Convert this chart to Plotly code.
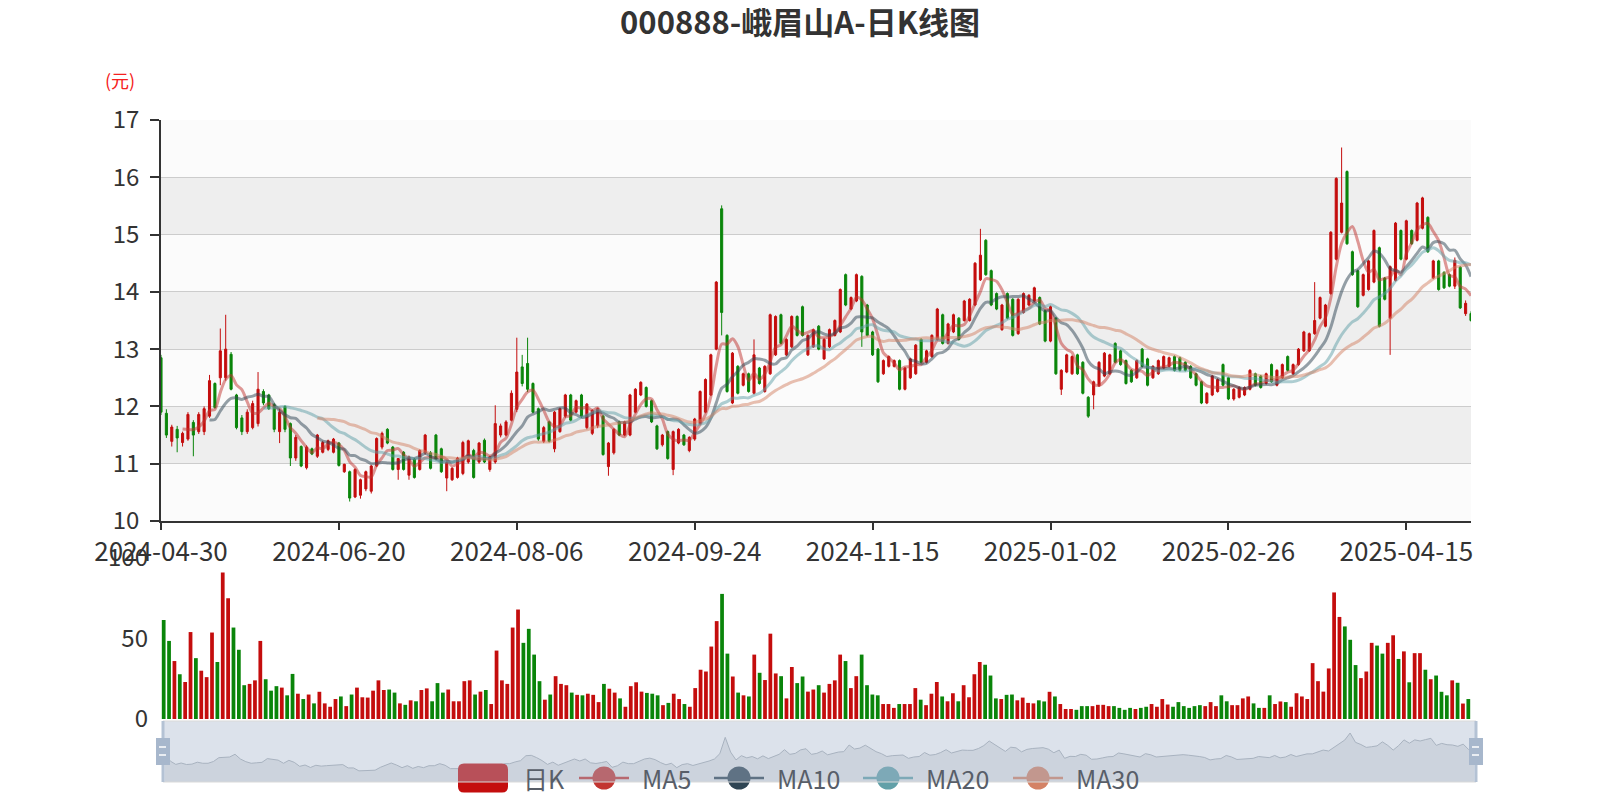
import pandas as pd
import plotly.graph_objects as go

# ---------------- data ----------------
title_text = "000888-峨眉山A-日K线图"
holidays = ["2024-05-01", "2024-05-02", "2024-05-03", "2024-06-10", "2024-09-16", "2024-09-17",
            "2024-10-01", "2024-10-02", "2024-10-03", "2024-10-04", "2024-10-07", "2025-01-01",
            "2025-01-28", "2025-01-29", "2025-01-30", "2025-01-31", "2025-02-03", "2025-02-04",
            "2025-04-04", "2025-05-01", "2025-05-02", "2025-05-05"]
dates = [d.strftime("%Y-%m-%d") for d in pd.bdate_range("2024-04-30", "2025-05-06")
         if d.strftime("%Y-%m-%d") not in holidays]
tick_labels = ["2024-04-30", "2024-06-20", "2024-08-06", "2024-09-24",
               "2024-11-15", "2025-01-02", "2025-02-26", "2025-04-15"]
price_ticks = [10, 11, 12, 13, 14, 15, 16, 17]
volume_ticks = [0, 50, 100]

opens = [
    12.85, 11.88, 11.39, 11.60, 11.37, 11.43, 11.72, 11.56, 11.56, 11.83,
    12.40, 12.50, 12.50, 12.91, 12.20, 11.80, 11.56, 11.63, 11.70, 12.26,
    12.20, 12.03, 11.56, 12.00, 11.70, 11.10, 11.30, 10.93, 11.26, 11.13,
    11.20, 11.25, 11.20, 11.36, 10.86, 10.86, 10.42, 10.45, 10.56, 10.52,
    10.96, 11.29, 11.60, 11.29, 10.90, 11.20, 10.80, 11.08, 10.90, 11.19,
    11.19, 11.50, 11.26, 10.75, 10.72, 10.76, 10.83, 11.03, 11.23, 11.03,
    11.41, 10.90, 11.03, 11.50, 11.50, 11.76, 11.95, 12.69, 12.75, 12.40,
    11.96, 11.39, 11.73, 11.26, 11.56, 11.83, 12.20, 11.90, 12.20, 11.63,
    11.53, 11.66, 11.83, 10.95, 11.19, 11.73, 11.50, 11.50, 11.90, 12.20,
    12.33, 12.10, 11.66, 11.33, 11.56, 10.90, 11.36, 11.50, 11.23, 11.43,
    11.70, 11.90, 12.20, 13.00, 15.45, 13.24, 12.06, 12.70, 12.37, 12.57,
    12.23, 12.67, 12.26, 12.57, 12.90, 13.60, 12.90, 13.04, 13.57, 13.74,
    12.90, 13.04, 13.40, 12.83, 13.04, 13.24, 13.30, 14.30, 13.70, 13.84,
    14.27, 13.77, 13.30, 13.00, 12.57, 12.70, 12.70, 12.80, 12.30, 12.50,
    12.57, 13.17, 12.77, 12.87, 13.17, 13.60, 13.10, 13.30, 13.54, 13.50,
    13.50, 13.77, 14.21, 14.90, 14.37, 13.97, 13.34, 13.97, 13.87, 13.27,
    13.64, 13.77, 13.84, 13.90, 13.67, 13.14, 13.54, 12.30, 12.60, 12.57,
    12.90, 12.77, 12.16, 12.20, 12.36, 12.53, 12.57, 13.10, 12.97, 12.80,
    12.63, 12.50, 13.00, 12.83, 12.50, 12.57, 12.67, 12.70, 12.87, 12.85,
    12.77, 12.70, 12.57, 12.43, 12.06, 12.20, 12.26, 12.73, 12.50, 12.13,
    12.16, 12.20, 12.30, 12.57, 12.53, 12.40, 12.73, 12.37, 12.50, 12.87,
    12.57, 12.73, 12.97, 12.97, 13.27, 13.54, 13.40, 13.97, 14.57, 15.04,
    16.10, 14.70, 14.37, 13.94, 14.04, 14.17, 14.77, 14.24, 13.54, 14.20,
    15.07, 14.57, 15.07, 14.90, 15.11, 15.30, 14.24, 14.54, 14.34, 14.30,
    14.10, 14.43, 13.62, 13.62]

closes = [
    11.90, 11.50, 11.64, 11.45, 11.53, 11.86, 11.50, 11.86, 11.96, 12.45,
    11.98, 12.97, 13.00, 12.30, 11.63, 11.56, 11.90, 12.05, 12.30, 12.06,
    11.96, 11.60, 11.90, 11.60, 11.10, 11.46, 10.96, 11.29, 11.17, 11.50,
    11.37, 11.40, 11.43, 10.97, 10.99, 10.40, 10.90, 10.72, 10.86, 10.96,
    11.44, 11.53, 11.36, 10.90, 11.09, 10.90, 11.12, 10.76, 11.23, 11.50,
    10.92, 11.08, 10.86, 11.02, 10.92, 11.10, 11.37, 11.40, 10.76, 11.36,
    11.03, 11.12, 11.70, 11.66, 11.73, 12.23, 12.60, 12.40, 12.30, 11.90,
    11.43, 11.63, 11.39, 11.90, 11.96, 12.20, 11.76, 12.10, 11.83, 12.04,
    11.93, 11.96, 11.16, 11.36, 11.60, 11.50, 11.73, 12.20, 12.30, 12.42,
    12.00, 11.73, 11.26, 11.50, 11.09, 11.56, 11.60, 11.33, 11.46, 11.78,
    12.26, 12.47, 12.90, 14.17, 13.64, 12.26, 12.93, 12.23, 12.57, 12.26,
    12.90, 12.40, 12.70, 13.60, 13.57, 13.10, 13.17, 13.57, 13.24, 13.24,
    13.24, 13.34, 13.00, 13.17, 13.34, 13.50, 14.04, 13.77, 13.90, 14.30,
    13.30, 13.24, 12.90, 12.43, 12.80, 12.87, 12.80, 12.30, 12.67, 12.83,
    13.07, 12.77, 12.97, 13.24, 13.70, 13.10, 13.44, 13.60, 13.17, 13.84,
    13.87, 14.50, 14.64, 14.30, 13.77, 13.70, 13.77, 13.54, 13.24, 13.87,
    13.97, 13.94, 14.07, 13.44, 13.14, 13.74, 12.57, 12.63, 12.90, 12.87,
    12.57, 12.23, 11.83, 12.43, 12.77, 12.93, 12.90, 12.77, 12.73, 12.40,
    12.43, 12.80, 12.70, 12.37, 12.70, 12.80, 12.87, 12.85, 12.63, 12.63,
    12.63, 12.50, 12.37, 12.06, 12.23, 12.53, 12.47, 12.37, 12.13, 12.30,
    12.33, 12.33, 12.63, 12.37, 12.33, 12.57, 12.43, 12.63, 12.73, 12.63,
    12.73, 13.00, 13.30, 13.27, 13.50, 13.90, 13.77, 15.04, 15.98, 15.55,
    14.84, 14.30, 13.74, 14.30, 14.54, 15.07, 13.40, 13.87, 14.44, 15.20,
    14.57, 15.24, 14.84, 15.55, 15.64, 14.70, 14.54, 14.04, 14.07, 14.10,
    14.55, 13.72, 13.80, 13.50]

highs = [
    12.90, 11.95, 11.68, 11.66, 11.56, 11.90, 11.76, 11.90, 12.00, 12.55,
    12.42, 13.36, 13.60, 12.95, 12.22, 11.85, 11.95, 12.10, 12.60, 12.30,
    12.22, 12.06, 11.96, 12.02, 11.72, 11.50, 11.32, 11.32, 11.28, 11.52,
    11.40, 11.42, 11.45, 11.38, 11.00, 10.88, 10.92, 10.74, 10.88, 10.98,
    11.46, 11.56, 11.62, 11.31, 11.10, 11.22, 11.14, 11.10, 11.25, 11.52,
    11.22, 11.52, 11.28, 11.04, 10.94, 11.12, 11.40, 11.42, 11.26, 11.38,
    11.44, 11.14, 12.02, 11.70, 11.76, 12.28, 13.20, 12.90, 13.20, 12.42,
    11.98, 11.66, 11.75, 11.92, 11.98, 12.22, 12.22, 12.12, 12.22, 12.06,
    11.95, 11.98, 11.85, 11.38, 11.62, 11.75, 11.75, 12.22, 12.32, 12.44,
    12.35, 12.12, 11.68, 11.52, 11.58, 11.58, 11.62, 11.52, 11.48, 11.80,
    12.28, 12.49, 12.92, 14.19, 15.51, 13.26, 12.95, 12.72, 12.59, 12.59,
    13.17, 12.69, 12.72, 13.62, 13.59, 13.62, 13.19, 13.59, 13.59, 13.76,
    13.26, 13.36, 13.42, 13.19, 13.36, 13.52, 14.06, 14.32, 13.92, 14.32,
    14.29, 13.79, 13.32, 13.02, 12.82, 12.89, 12.82, 12.82, 12.69, 12.85,
    13.09, 13.19, 12.99, 13.26, 13.72, 13.62, 13.46, 13.62, 13.56, 13.86,
    13.89, 14.52, 15.10, 14.92, 14.39, 13.99, 13.79, 13.99, 13.89, 13.89,
    13.99, 13.96, 14.09, 13.92, 13.69, 13.76, 13.56, 12.65, 12.92, 12.89,
    12.92, 12.79, 12.18, 12.45, 12.79, 12.95, 12.92, 13.12, 12.99, 12.82,
    12.65, 12.82, 13.02, 12.85, 12.72, 12.82, 12.89, 12.87, 12.89, 12.87,
    12.79, 12.72, 12.59, 12.45, 12.25, 12.55, 12.49, 12.75, 12.52, 12.32,
    12.35, 12.35, 12.65, 12.59, 12.55, 12.59, 12.75, 12.65, 12.75, 12.89,
    12.75, 13.02, 13.32, 13.29, 14.17, 13.92, 13.79, 15.06, 16.00, 16.52,
    16.12, 14.72, 14.39, 14.32, 14.56, 15.09, 14.79, 14.26, 14.46, 15.22,
    15.09, 15.26, 15.09, 15.57, 15.66, 15.32, 14.56, 14.56, 14.36, 14.32,
    14.60, 14.45, 13.85, 13.66]

lows = [
    11.85, 11.45, 11.30, 11.20, 11.30, 11.40, 11.13, 11.52, 11.50, 11.80,
    11.96, 12.37, 12.45, 12.28, 11.60, 11.50, 11.52, 11.60, 11.65, 12.02,
    11.94, 11.55, 11.36, 11.55, 10.96, 11.05, 10.94, 10.90, 11.15, 11.10,
    11.18, 11.22, 11.18, 10.95, 10.84, 10.34, 10.40, 10.39, 10.52, 10.48,
    10.94, 11.25, 11.34, 10.88, 10.72, 10.88, 10.72, 10.74, 10.88, 11.16,
    10.90, 11.06, 10.84, 10.52, 10.70, 10.74, 10.80, 11.00, 10.74, 11.00,
    11.01, 10.86, 11.00, 11.46, 11.48, 11.74, 11.90, 12.35, 12.25, 11.88,
    11.40, 11.36, 11.37, 11.20, 11.54, 11.80, 11.74, 11.88, 11.80, 11.60,
    11.50, 11.62, 11.14, 10.79, 11.16, 11.48, 11.48, 11.48, 11.88, 12.18,
    11.98, 11.71, 11.24, 11.30, 11.07, 10.80, 11.34, 11.31, 11.20, 11.40,
    11.68, 11.88, 12.18, 12.98, 13.24, 12.24, 12.04, 12.21, 12.35, 12.24,
    12.21, 12.38, 12.24, 12.55, 12.88, 13.08, 12.88, 13.02, 13.22, 13.22,
    12.88, 13.02, 12.98, 12.81, 13.02, 13.22, 13.28, 13.75, 13.68, 13.82,
    13.04, 13.22, 12.88, 12.41, 12.55, 12.68, 12.68, 12.28, 12.28, 12.48,
    12.55, 12.75, 12.75, 12.85, 13.15, 13.08, 13.08, 13.28, 13.15, 13.48,
    13.48, 13.75, 14.19, 14.28, 13.75, 13.68, 13.32, 13.52, 13.22, 13.25,
    13.62, 13.75, 13.82, 13.42, 13.12, 13.12, 12.55, 12.20, 12.58, 12.55,
    12.55, 12.21, 11.80, 11.95, 12.34, 12.51, 12.55, 12.75, 12.71, 12.38,
    12.41, 12.48, 12.68, 12.35, 12.48, 12.55, 12.65, 12.68, 12.61, 12.61,
    12.61, 12.48, 12.35, 12.04, 12.04, 12.18, 12.24, 12.35, 12.11, 12.10,
    12.14, 12.18, 12.28, 12.35, 12.31, 12.38, 12.41, 12.35, 12.48, 12.61,
    12.55, 12.71, 12.95, 12.95, 13.25, 13.52, 13.38, 13.95, 14.55, 15.02,
    14.82, 14.28, 13.72, 13.92, 14.02, 14.15, 13.38, 13.85, 12.90, 14.18,
    14.55, 14.55, 14.82, 14.88, 15.09, 14.68, 14.22, 14.02, 14.05, 14.08,
    14.05, 13.70, 13.58, 13.48]

volumes = [
    61.5, 48.5, 36.0, 27.8, 23.0, 54.0, 37.8, 30.0, 26.0, 53.7,
    35.4, 91.0, 75.0, 56.8, 43.0, 21.0, 21.8, 24.0, 48.5, 24.7,
    17.6, 20.4, 19.5, 14.7, 28.0, 15.7, 12.4, 15.2, 9.7, 16.9,
    9.7, 7.6, 12.4, 14.0, 8.0, 15.2, 19.5, 13.5, 13.3, 17.6,
    24.0, 18.0, 18.3, 16.4, 9.7, 8.8, 11.6, 11.0, 18.0, 19.0,
    11.0, 22.3, 16.4, 18.3, 11.0, 11.0, 23.5, 24.0, 15.2, 17.0,
    18.0, 9.3, 42.5, 24.0, 21.8, 56.8, 68.0, 47.3, 56.0, 40.0,
    23.5, 12.0, 15.2, 26.6, 21.8, 21.0, 16.4, 15.0, 14.7, 15.7,
    15.0, 10.5, 21.8, 18.8, 16.4, 12.8, 7.6, 20.4, 22.8, 17.0,
    16.2, 15.7, 14.7, 8.6, 10.0, 15.7, 12.4, 9.3, 7.6, 19.2,
    30.6, 29.5, 45.0, 60.8, 77.7, 40.6, 26.4, 16.4, 14.7, 14.0,
    40.0, 28.7, 24.2, 53.0, 28.3, 26.6, 12.8, 32.3, 22.3, 26.4,
    17.0, 18.3, 21.0, 16.4, 21.8, 24.0, 40.0, 36.0, 19.2, 26.6,
    40.0, 21.0, 15.2, 14.7, 9.3, 9.3, 6.9, 9.3, 9.3, 9.3,
    19.2, 12.0, 8.6, 15.7, 23.0, 14.0, 11.0, 16.0, 11.0, 21.0,
    13.5, 27.8, 35.4, 33.7, 27.0, 12.8, 12.4, 15.0, 15.2, 11.6,
    13.3, 10.0, 9.7, 11.6, 10.9, 16.9, 14.0, 9.3, 6.2, 6.2,
    5.7, 8.0, 8.0, 8.0, 8.8, 8.8, 8.0, 8.0, 6.9, 5.7,
    6.9, 6.2, 6.9, 7.6, 9.3, 7.6, 12.4, 9.0, 7.6, 10.5,
    8.0, 6.9, 8.0, 8.6, 8.0, 10.5, 8.0, 14.7, 11.0, 8.6,
    8.6, 12.8, 14.0, 9.7, 6.9, 6.9, 14.7, 9.3, 10.9, 10.5,
    7.6, 16.0, 14.0, 12.4, 34.7, 23.5, 17.0, 31.4, 78.6, 63.4,
    57.5, 49.2, 33.5, 25.4, 29.5, 47.3, 45.6, 40.6, 47.3, 52.0,
    37.3, 42.0, 22.8, 40.9, 40.9, 30.6, 24.7, 27.0, 16.9, 14.7,
    24.0, 22.5, 9.6, 12.4]

ma_windows = [5, 10, 20, 30]
ma_names = ["MA5", "MA10", "MA20", "MA30"]

n = len(dates)
for arr in (opens, closes, highs, lows, volumes):
    assert len(arr) == n, (len(arr), n)

# ---------------- style ----------------
W, H = 1600, 800
OFF = 8   # the page body offsets the figure by 8 px
UP, DOWN = "#c40d0d", "#0a850a"
MA_COLORS = ["#c23531", "#2f4554", "#61a0a8", "#d48265"]
FONT = "Noto Sans CJK SC"
TXT = "#333333"


def px(x):
    return (x - OFF) / W


def py(y):
    return 1 - (y - OFF) / H


PX0, PX1 = 161, 1471            # plot left/right (screen pixels)
P_TOP, P_BOT = 120.0, 521.0     # price panel
V_TOP, V_BOT = 558, 719         # volume panel
S_L, S_R, S_TOP, S_BOT = 163, 1476, 721, 782  # slider

close_s = pd.Series(closes)
mas = [close_s.rolling(w).mean().round(3).tolist() for w in ma_windows]
vol_colors = [UP if c >= o else DOWN for o, c in zip(opens, closes)]

fig = go.Figure()

fig.add_trace(go.Candlestick(
    x=dates, open=opens, high=highs, low=lows, close=closes, name="日K",
    increasing=dict(line=dict(color=UP, width=1), fillcolor=UP),
    decreasing=dict(line=dict(color=DOWN, width=1), fillcolor=DOWN),
    whiskerwidth=0, xaxis="x", yaxis="y", showlegend=False, hoverinfo="skip"))

for name, vals, col in zip(ma_names, mas, MA_COLORS):
    fig.add_trace(go.Scatter(
        x=dates, y=vals, mode="lines", name=name, opacity=0.5,
        line=dict(color=col, width=3, shape="spline", smoothing=0.8),
        xaxis="x", yaxis="y", showlegend=False, hoverinfo="skip"))

fig.add_trace(go.Bar(x=dates, y=volumes, marker=dict(color=vol_colors, line=dict(width=0)),
                     xaxis="x2", yaxis="y2", showlegend=False, hoverinfo="skip"))

# slider data shadow (open prices)
fig.add_trace(go.Scatter(x=dates, y=opens, mode="lines", fill="tozeroy",
                         fillcolor="rgb(229,231,232)",
                         line=dict(color="rgb(169,176,183)", width=1),
                         xaxis="x3", yaxis="y3", showlegend=False, hoverinfo="skip"))

y_font = dict(family=FONT, size=24, color=TXT)
x_font = dict(family=FONT, size=26, color=TXT)

fig.update_layout(
    width=W, height=H, margin=dict(l=0, r=0, t=0, b=0, autoexpand=False),
    paper_bgcolor="white", plot_bgcolor="rgba(0,0,0,0)",
    font=dict(family=FONT, color=TXT),
    title=dict(text="<b>" + title_text + "</b>", x=px(800), xanchor="center", xref="paper",
               y=py(23), yanchor="middle", yref="container", automargin=False,
               font=dict(family=FONT, size=31, color=TXT)),
    boxgap=0.45, bargap=0.3, showlegend=False, hovermode=False,
    xaxis=dict(domain=[px(PX0), px(PX1)], type="category", range=[0, n - 1],
               anchor="y", tickmode="array", tickvals=tick_labels, ticktext=tick_labels,
               showgrid=False, showline=True, linecolor=TXT, linewidth=1.5,
               ticks="outside", ticklen=7, tickwidth=1.5, tickcolor=TXT,
               tickfont=x_font, ticklabelstandoff=0, automargin=False,
               rangeslider=dict(visible=False), zeroline=False),
    yaxis=dict(domain=[py(P_BOT), py(P_TOP)], range=[price_ticks[0], price_ticks[-1]],
               anchor="x", tickmode="array", tickvals=price_ticks,
               showgrid=True, gridcolor="#cccccc", gridwidth=1.2,
               showline=True, linecolor=TXT, linewidth=1.5,
               ticks="outside", ticklen=9, tickwidth=1.5, tickcolor=TXT,
               tickfont=y_font, ticklabelstandoff=6, automargin=False, zeroline=False),
    xaxis2=dict(domain=[px(PX0), px(PX1)], type="category", range=[-0.5, n - 0.5],
                anchor="y2", showticklabels=False, showline=False, automargin=False,
                showgrid=False, ticks="", zeroline=False),
    yaxis2=dict(domain=[py(V_BOT), py(V_TOP)], range=[0, 100], anchor="x2",
                tickmode="array", tickvals=volume_ticks, showgrid=False, showline=False,
                ticks="", automargin=False,
                tickfont=y_font, ticklabelstandoff=12, zeroline=False),
    xaxis3=dict(domain=[px(S_L + 2), px(S_R - 2)], type="category", range=[0, n - 1],
                anchor="y3", visible=False, automargin=False),
    yaxis3=dict(domain=[py(S_BOT), py(S_TOP)], range=[8.75, 17.9], anchor="x3",
                visible=False, automargin=False),
)

shapes = []
# split areas of the price panel
band_cols = ["#fbfbfb", "#eeeeee"]
for k in range(len(price_ticks) - 1):
    shapes.append(dict(type="rect", xref="paper", yref="y", layer="below",
                       x0=px(PX0), x1=px(PX1), y0=price_ticks[k], y1=price_ticks[k + 1],
                       fillcolor=band_cols[k % 2], line=dict(width=0)))

# legend icons (drawn before the slider so the slider filler overlays them)
LEG_Y = 778


def rounded_rect(x0, y0, x1, y1, r):
    X0, X1 = px(x0), px(x1)
    Y0, Y1 = py(y0), py(y1)
    rx, ry = r / W, r / H
    return (f"M {X0+rx},{Y0} L {X1-rx},{Y0} Q {X1},{Y0} {X1},{Y0-ry} "
            f"L {X1},{Y1+ry} Q {X1},{Y1} {X1-rx},{Y1} L {X0+rx},{Y1} "
            f"Q {X0},{Y1} {X0},{Y1+ry} L {X0},{Y0-ry} Q {X0},{Y0} {X0+rx},{Y0} Z")


shapes.append(dict(type="path", xref="paper", yref="paper", layer="above",
                   path=rounded_rect(458, LEG_Y - 14.5, 508, LEG_Y + 14.5, 6),
                   fillcolor=UP, line=dict(width=0)))
legend_text_x = [521]
ma_icon_x = [579, 714, 863, 1013]
for x0, col in zip(ma_icon_x, MA_COLORS):
    shapes.append(dict(type="line", xref="paper", yref="paper", layer="above",
                       x0=px(x0), x1=px(x0 + 50), y0=py(LEG_Y), y1=py(LEG_Y),
                       line=dict(color=col, width=2.5)))
    shapes.append(dict(type="circle", xref="paper", yref="paper", layer="above",
                       x0=px(x0 + 25 - 11.5), x1=px(x0 + 25 + 11.5),
                       y0=py(LEG_Y - 11.5), y1=py(LEG_Y + 11.5),
                       fillcolor=col, line=dict(width=0)))
    legend_text_x.append(x0 + 61)

# slider filler + border
shapes.append(dict(type="rect", xref="paper", yref="paper", layer="above",
                   x0=px(S_L), x1=px(S_R), y0=py(S_BOT), y1=py(S_TOP),
                   fillcolor="rgba(167,183,204,0.4)", line=dict(color="#d9d9d9", width=1)))
# slider edges and handles
for xe in (S_L, S_R):
    shapes.append(dict(type="rect", xref="paper", yref="paper", layer="above",
                       x0=px(xe - 1.5), x1=px(xe + 1.5), y0=py(S_BOT), y1=py(S_TOP),
                       fillcolor="#b4c2d4", line=dict(width=0)))
    shapes.append(dict(type="rect", xref="paper", yref="paper", layer="above",
                       x0=px(xe - 7), x1=px(xe + 7), y0=py(765), y1=py(738),
                       fillcolor="#a7b7cc", line=dict(width=0)))
    for yy in (747, 755):
        shapes.append(dict(type="line", xref="paper", yref="paper", layer="above",
                           x0=px(xe - 4), x1=px(xe + 3), y0=py(yy), y1=py(yy),
                           line=dict(color="white", width=1.5)))

fig.update_layout(shapes=shapes)

annotations = [
    dict(text="(元)", xref="paper", yref="paper", x=px(120), y=py(80),
         xanchor="center", yanchor="middle", showarrow=False,
         font=dict(family=FONT, size=18, color="#f52020")),
]
for label, xl in zip(["日K"] + ma_names, legend_text_x):
    annotations.append(dict(text=label, xref="paper", yref="paper", x=px(xl), y=py(LEG_Y),
                            xanchor="left", yanchor="middle", showarrow=False,
                            font=dict(family=FONT, size=25, color="#585e68")))
fig.update_layout(annotations=annotations)

fig.write_html("out.html")
